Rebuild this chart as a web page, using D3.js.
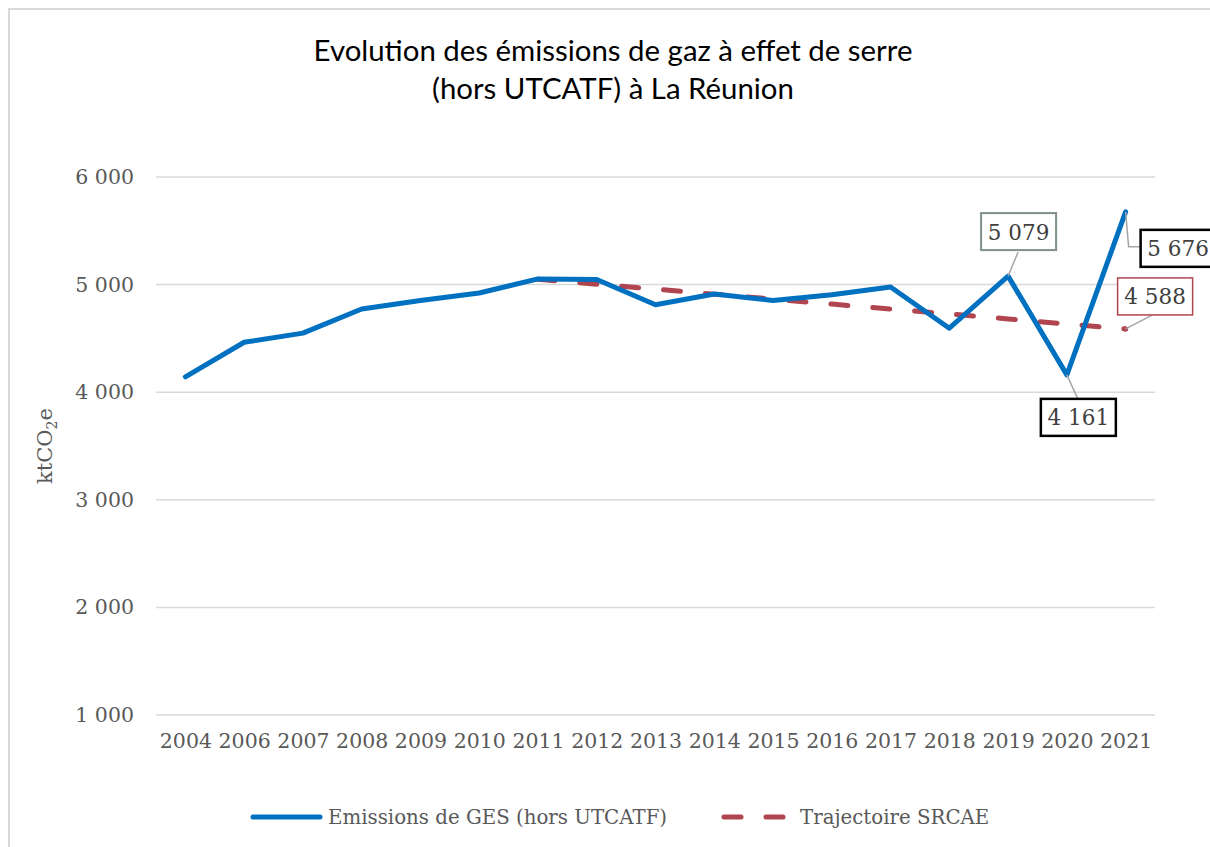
<!DOCTYPE html>
<html>
<head>
<meta charset="utf-8">
<script src="https://cdn.jsdelivr.net/npm/d3@7"></script>
<style>
  body { margin: 0; background: #fff; }
  svg { display: block; }
</style>
</head>
<body>
<div class="chart"></div>
<script>
// categories and values
var years = [ '2004', '2006', '2007', '2008', '2009', '2010', '2011', '2012', '2013',
              '2014', '2015', '2016', '2017', '2018', '2019', '2020', '2021' ];
var emissions = [ 4143, 4464, 4549, 4773, 4853, 4922, 5053, 5047, 4813,
                  4912, 4853, 4906, 4978, 4595, 5079, 4161, 5676 ];
// SRCAE trajectory only starts in 2011
var srcaeYears = [ '2011', '2012', '2013', '2014', '2015', '2016', '2017', '2018', '2019', '2020', '2021' ];
var srcae = [ 5050, 5004, 4958, 4911, 4865, 4819, 4773, 4727, 4681, 4634, 4588 ];
var yTicks = [ 1000, 2000, 3000, 4000, 5000, 6000 ];

var W = 1210, H = 847;
// plot area (note: "top" is reserved on window, hence the prefix)
var plotLeft = 156, plotRight = 1155, plotTop = 177, plotBottom = 715;
var serif = '"DejaVu Serif", serif';
var grey = '#595959';
var blue = '#0070C0';
var red = '#B0444F';

var svg = d3.select( '.chart' )
    .append( 'svg' )
    .attr( 'width' , W )
    .attr( 'height' , H );

// outer frame of the chart
svg.append( 'rect' )
    .attr( 'x' , 9 ).attr( 'y' , 9 )
    .attr( 'width' , 1218 ).attr( 'height' , 850 )
    .attr( 'fill' , 'none' )
    .attr( 'stroke' , '#D9D9D9' )
    .attr( 'stroke-width' , 2 );

var x = d3.scalePoint().domain( years ).range( [ plotLeft, plotRight ] ).padding( 0.5 );
var y = d3.scaleLinear().domain( [ 1000, 6000 ] ).range( [ plotBottom, plotTop ] );

// gridlines
svg.append( 'g' ).selectAll( 'line' )
    .data( yTicks )
    .enter()
        .append( 'line' )
        .attr( 'x1' , plotLeft ).attr( 'x2' , plotRight )
        .attr( 'y1' , function( d ){ return y( d ) } )
        .attr( 'y2' , function( d ){ return y( d ) } )
        .attr( 'stroke' , '#D9D9D9' )
        .attr( 'stroke-width' , 1.5 );

var fmt = function( v ) { return d3.format( ',' )( v ).replace( ',' , ' ' ); };

// y axis labels
var yAxis = svg.append( 'g' )
    .attr( 'transform' , 'translate(' + ( plotLeft - 22 ) + ',0)' )
    .call( d3.axisLeft( y ).tickValues( yTicks ).tickSize( 0 ).tickPadding( 0 ).tickFormat( fmt ) );
yAxis.select( '.domain' ).remove();
yAxis.selectAll( 'text' )
    .attr( 'font-family' , serif ).attr( 'font-size' , 20.5 ).attr( 'fill' , grey );

// x axis labels
var xAxis = svg.append( 'g' )
    .attr( 'transform' , 'translate(0,' + ( plotBottom + 18 ) + ')' )
    .call( d3.axisBottom( x ).tickSize( 0 ).tickPadding( 0 ) );
xAxis.select( '.domain' ).remove();
xAxis.selectAll( 'text' )
    .attr( 'font-family' , serif ).attr( 'font-size' , 20.5 ).attr( 'fill' , grey );

// y axis title
var yt = svg.append( 'text' )
    .attr( 'transform' , 'translate(52,446) rotate(-90)' )
    .attr( 'text-anchor' , 'middle' )
    .attr( 'font-family' , serif ).attr( 'font-size' , 21 ).attr( 'fill' , grey );
yt.append( 'tspan' ).text( 'ktCO' );
yt.append( 'tspan' ).text( '2' ).attr( 'font-size' , 14 ).attr( 'dy' , 5 );
yt.append( 'tspan' ).text( 'e' ).attr( 'dy' , -5 );

// title
svg.append( 'text' )
    .attr( 'x' , 613 ).attr( 'y' , 61 )
    .attr( 'text-anchor' , 'middle' )
    .attr( 'font-family' , 'Lato, sans-serif' ).attr( 'font-size' , 29.4 ).attr( 'fill' , '#000' )
    .text( 'Evolution des émissions de gaz à effet de serre' );
svg.append( 'text' )
    .attr( 'x' , 613 ).attr( 'y' , 99 )
    .attr( 'text-anchor' , 'middle' )
    .attr( 'font-family' , 'Lato, sans-serif' ).attr( 'font-size' , 29.4 ).attr( 'fill' , '#000' )
    .text( '(hors UTCATF) à La Réunion' );

// lines
var line = d3.line()
    .x( function( d ){ return x( d[0] ) } )
    .y( function( d ){ return y( d[1] ) } );

svg.append( 'path' )
    .datum( srcaeYears.map( function( yr, i ){ return [ yr, srcae[i] ] } ) )
    .attr( 'd' , line )
    .attr( 'fill' , 'none' )
    .attr( 'stroke' , red )
    .attr( 'stroke-width' , 5 )
    .attr( 'stroke-linecap' , 'round' )
    .attr( 'stroke-dasharray' , '17 25' );

svg.append( 'path' )
    .datum( years.map( function( yr, i ){ return [ yr, emissions[i] ] } ) )
    .attr( 'd' , line )
    .attr( 'fill' , 'none' )
    .attr( 'stroke' , blue )
    .attr( 'stroke-width' , 5 )
    .attr( 'stroke-linejoin' , 'round' )
    .attr( 'stroke-linecap' , 'round' );

// end dot of the trajectory
svg.append( 'circle' )
    .attr( 'cx' , x( '2021' ) ).attr( 'cy' , y( srcae[ srcae.length - 1 ] ) )
    .attr( 'r' , 2.5 ).attr( 'fill' , red );

// data callouts: box offset from the point, leader path, border colour
var callouts = [
    { year: '2019', value: emissions[14], bx: -27, by: -63, border: '#7F8F8A', sw: 2,
      leader: [ [ 0, 0 ], [ 10, -24 ] ] },
    { year: '2020', value: emissions[15], bx: -26, by: 24, border: '#000', sw: 2.5,
      leader: [ [ 0, 0 ], [ 11, 24 ] ] },
    { year: '2021', value: emissions[16], bx: 15, by: 18, border: '#000', sw: 2.5,
      leader: [ [ 0, 0 ], [ 3, 35 ], [ 15, 35 ] ] },
    { year: '2021', value: srcae[10], bx: -8, by: -51, border: red, sw: 1.5,
      leader: [ [ 0, 0 ], [ 27, -14 ] ] }
];

callouts.forEach( function( c ) {
    var px = x( c.year ), py = y( c.value );
    svg.append( 'path' )
        .attr( 'd' , d3.line()( c.leader.map( function( p ){ return [ px + p[0], py + p[1] ] } ) ) )
        .attr( 'fill' , 'none' )
        .attr( 'stroke' , '#A6A6A6' )
        .attr( 'stroke-width' , 1.5 );
    svg.append( 'rect' )
        .attr( 'x' , px + c.bx ).attr( 'y' , py + c.by )
        .attr( 'width' , 75 ).attr( 'height' , 37 )
        .attr( 'fill' , '#fff' )
        .attr( 'stroke' , c.border )
        .attr( 'stroke-width' , c.sw );
    svg.append( 'text' )
        .attr( 'x' , px + c.bx + 37.5 ).attr( 'y' , py + c.by + 26.5 )
        .attr( 'text-anchor' , 'middle' )
        .attr( 'font-family' , serif ).attr( 'font-size' , 21.5 ).attr( 'fill' , '#404040' )
        .text( fmt( c.value ) );
} );

// legend
var legend = svg.append( 'g' );
legend.append( 'line' )
    .attr( 'x1' , 253 ).attr( 'x2' , 320 ).attr( 'y1' , 817 ).attr( 'y2' , 817 )
    .attr( 'stroke' , blue ).attr( 'stroke-width' , 5 ).attr( 'stroke-linecap' , 'round' );
legend.append( 'text' )
    .attr( 'x' , 328 ).attr( 'y' , 824 )
    .attr( 'font-family' , serif ).attr( 'font-size' , 19.8 ).attr( 'fill' , grey )
    .text( 'Emissions de GES (hors UTCATF)' );
legend.append( 'line' )
    .attr( 'x1' , 724 ).attr( 'x2' , 785 ).attr( 'y1' , 817 ).attr( 'y2' , 817 )
    .attr( 'stroke' , red ).attr( 'stroke-width' , 5 ).attr( 'stroke-linecap' , 'round' )
    .attr( 'stroke-dasharray' , '17 25' );
legend.append( 'text' )
    .attr( 'x' , 800 ).attr( 'y' , 824 )
    .attr( 'font-family' , serif ).attr( 'font-size' , 19.8 ).attr( 'fill' , grey )
    .text( 'Trajectoire SRCAE' );
</script>
</body>
</html>
